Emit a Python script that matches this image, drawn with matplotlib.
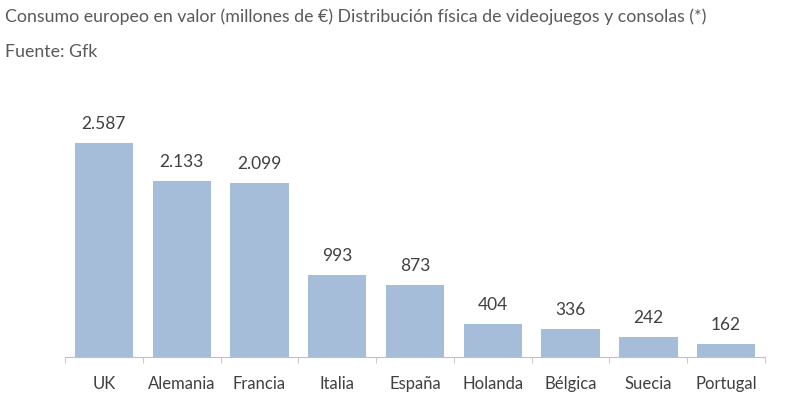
import matplotlib.pyplot as plt

paises = ["UK", "Alemania", "Francia", "Italia", "España", "Holanda", "Bélgica", "Suecia", "Portugal"]
valores = [2587, 2133, 2099, 993, 873, 404, 336, 242, 162]
etiquetas = ["2.587", "2.133", "2.099", "993", "873", "404", "336", "242", "162"]

plt.rcParams['font.family'] = ['Lato', 'DejaVu Sans']
gris = '#595959'

fig = plt.figure(figsize=(8, 3.93), dpi=100)
ax = fig.add_axes([65 / 800, 36 / 393, 700 / 800, 248 / 393])

x = range(len(paises))
ax.bar(x, valores, width=0.75, color='#a5bdd8')
for i, (v, t) in enumerate(zip(valores, etiquetas)):
    ax.text(i, v + 230, t, ha='center', va='center', fontsize=12.5, color='#404040')

ax.set_xlim(-0.5, len(paises) - 0.5)
ax.set_ylim(0, 3000)
ax.set_xticks(x)
ax.set_xticklabels(paises, fontsize=12, color='#404040')
ax.tick_params(axis='x', length=0, pad=14)
ax.set_xticks([i - 0.5 for i in range(len(paises) + 1)], minor=True)
ax.tick_params(axis='x', which='minor', length=4, color='#c0c0c0')
ax.set_yticks([])
for s in ['top', 'right', 'left']:
    ax.spines[s].set_visible(False)
ax.spines['bottom'].set_color('#c0c0c0')

fig.text(5 / 800, 1 - 17 / 393, "Consumo europeo en valor (millones de €) Distribución física de videojuegos y consolas (*)",
         fontsize=12.8, color=gris, va='center')
fig.text(5 / 800, 1 - 52 / 393, "Fuente: Gfk", fontsize=12.8, color=gris, va='center')

fig.savefig('out.png', dpi=100, facecolor='white')
